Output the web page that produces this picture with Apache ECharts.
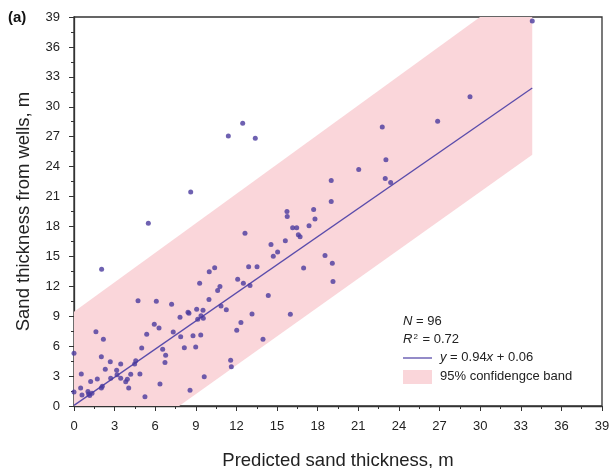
<!DOCTYPE html>
<html>
<head>
<meta charset="utf-8">
<script src="https://cdn.jsdelivr.net/npm/echarts@6/dist/echarts.min.js"></script>
<style>
  html, body { margin: 0; padding: 0; background: #fff; }
  #chart { width: 611px; height: 468px; }
</style>
</head>
<body>
<div id="chart"></div>
<script>
// Predicted vs. measured sand thickness (m) for the wells
const predicted = [
  0.0, 0.0, 0.54, 0.49, 0.59, 1.03, 1.08, 1.16, 1.33, 1.23,
  1.62, 1.72, 2.02, 2.17, 2.02, 2.09, 2.31, 2.68, 2.71, 3.15,
  3.18, 3.45, 3.45, 3.82, 3.94, 4.04, 4.19, 4.48, 4.56, 4.87,
  5.0, 5.24, 5.37, 5.93, 6.28, 6.35, 6.55, 6.77, 6.72, 7.33,
  7.88, 8.15, 7.83, 5.49, 2.04, 4.73, 6.08, 7.21, 9.28, 8.42,
  9.06, 9.53, 15.04, 14.72, 16.96, 9.99, 10.39, 12.9, 13.52, 12.09,
  12.51, 13.0, 10.78, 10.61, 9.97, 14.35, 10.86, 11.25, 8.49, 9.38,
  9.55, 9.14, 13.15, 15.98, 12.33, 12.02, 8.79, 9.36, 8.99, 13.96,
  11.57, 11.62, 9.62, 8.57, 23.04, 21.03, 19.0, 22.99, 23.39, 19.0,
  17.7, 17.8, 17.36, 16.7, 18.54, 19.08, 19.13, 33.85, 29.25, 26.86,
  22.77, 15.73, 15.75, 16.15, 16.45, 16.57, 15.61, 14.55, 8.62, 11.4,
  12.46, 13.39, 12.63
];
const measured = [
  5.3, 1.4, 3.2, 1.8, 1.1, 1.45, 1.2, 1.05, 1.27, 2.45,
  7.45, 2.7, 4.95, 6.7, 1.8, 1.97, 3.68, 4.44, 2.78, 3.58,
  3.14, 4.21, 2.78, 2.44, 2.68, 1.81, 3.18, 4.21, 4.54, 3.21,
  5.82, 0.93, 7.19, 8.19, 7.82, 2.21, 5.69, 5.09, 4.35, 7.42,
  6.95, 5.85, 8.9, 18.32, 13.71, 10.56, 10.5, 10.2, 12.31, 9.4,
  9.7, 9.6, 15.45, 15.01, 13.84, 13.47, 13.87, 13.97, 13.97, 12.7,
  12.3, 12.07, 11.97, 11.57, 10.67, 11.07, 10.03, 9.66, 9.3, 9.06,
  8.8, 8.7, 9.23, 9.2, 8.36, 7.59, 7.05, 7.12, 5.92, 6.69,
  4.58, 3.94, 2.94, 1.57, 24.7, 23.7, 22.6, 22.8, 22.4, 20.5,
  19.7, 18.75, 18.08, 16.98, 15.08, 14.3, 12.47, 38.6, 31.0, 28.56,
  27.98, 19.49, 18.99, 17.88, 17.88, 17.18, 16.58, 16.2, 21.46, 27.08,
  28.36, 26.85, 17.32
];

// Least-squares fit y = slope * x + intercept
const fitSlope = 0.94;
const fitIntercept = 0.06;
const fitRange = [0, 33.85];

// 95% confidence band edges at the ends of the fitted range
const bandX = [0, 33.85];
const bandUpper = [9.46, 42.8];
const bandLower = [-7.5, 25.2];

// Summary statistics
const sampleCount = 96;
const rSquared = 0.72;

// Axis range shared by both axes
const axisMin = 0;
const axisMax = 39;
const axisStep = 3;

const points = predicted.map((x, i) => [x, measured[i]]);
const fitLine = fitRange.map(x => [x, fitSlope * x + fitIntercept]);
const bandPolygon = [
  [bandX[0], bandLower[0]], [bandX[1], bandLower[1]],
  [bandX[1], bandUpper[1]], [bandX[0], bandUpper[0]]
];

const FONT = '"Liberation Sans", Arial, sans-serif';
const AXIS_COLOR = '#333';
const POINT_COLOR = '#4a3a9e';
const LINE_COLOR = '#5a4cab';
const BAND_COLOR = '#fad6da';

function axisCommon() {
  return {
    type: 'value',
    min: axisMin,
    max: axisMax,
    interval: axisStep,
    axisLine: { show: true, onZero: false, lineStyle: { color: AXIS_COLOR, width: 1.3 } },
    axisTick: { show: true, inside: false, length: 5, lineStyle: { color: AXIS_COLOR, width: 1 } },
    minorTick: { show: true, splitNumber: 2, length: 3, lineStyle: { color: AXIS_COLOR, width: 1 } },
    splitLine: { show: false },
    nameLocation: 'middle',
    nameTextStyle: { fontFamily: FONT, fontSize: 18.5, color: '#222' }
  };
}

const chart = echarts.init(document.getElementById('chart'), null, { renderer: 'canvas' });

const legendX = 403;
const legendText = { fontFamily: FONT, fontSize: 13, fill: '#222' };
const italic = { fontFamily: FONT, fontSize: 13, fontStyle: 'italic', fill: '#222' };

chart.setOption({
  animation: false,
  backgroundColor: '#fff',
  grid: {
    left: 74, right: 9, top: 17, bottom: 62,
    containLabel: false,
    outerBoundsMode: 'none',
    show: true, borderColor: AXIS_COLOR, borderWidth: 1.3, backgroundColor: 'transparent'
  },
  xAxis: Object.assign(axisCommon(), {
    name: 'Predicted sand thickness, m',
    nameGap: 45,
    axisLabel: { fontFamily: FONT, fontSize: 13, color: '#222', margin: 14 }
  }),
  yAxis: Object.assign(axisCommon(), {
    name: 'Sand thickness from wells, m',
    nameGap: 41,
    axisLabel: { fontFamily: FONT, fontSize: 13, color: '#222', margin: 14 }
  }),
  series: [
    {
      name: '95% confidence band',
      type: 'custom',
      clip: true,
      z: 1,
      silent: true,
      data: [0],
      renderItem: function (params, api) {
        const pts = bandPolygon.map(p => api.coord(p));
        const cs = params.coordSys;
        return {
          type: 'polygon',
          shape: { points: pts },
          style: { fill: BAND_COLOR },
          clipPath: { type: 'rect', shape: { x: cs.x, y: cs.y, width: cs.width, height: cs.height } }
        };
      }
    },
    {
      name: 'fit',
      type: 'line',
      z: 2,
      data: fitLine,
      symbol: 'none',
      lineStyle: { color: LINE_COLOR, width: 1.3 },
      silent: true
    },
    {
      name: 'wells',
      type: 'scatter',
      z: 3,
      data: points,
      symbol: 'circle',
      symbolSize: 5,
      itemStyle: { color: POINT_COLOR }
    }
  ],
  graphic: [
    {
      type: 'text', left: 8, top: 10,
      style: { text: '(a)', fontFamily: FONT, fontSize: 15, fontWeight: 'bold', fill: '#111' }
    },
    {
      type: 'text', x: legendX, y: 315,
      style: Object.assign({}, legendText, {
        text: '{i|N} = ' + sampleCount,
        rich: { i: italic }
      })
    },
    {
      type: 'text', x: legendX, y: 333,
      style: Object.assign({}, legendText, {
        text: '{i|R}{s|2} = ' + rSquared.toFixed(2),
        rich: {
          i: italic,
          s: { fontFamily: FONT, fontSize: 8, fill: '#222', verticalAlign: 'top', padding: [0, 1, 5, 1] }
        }
      })
    },
    {
      type: 'line', shape: { x1: legendX, y1: 358, x2: legendX + 29, y2: 358 },
      style: { stroke: LINE_COLOR, lineWidth: 1.3 }
    },
    {
      type: 'text', x: legendX + 37, y: 351,
      style: Object.assign({}, legendText, {
        text: '{i|y} = ' + fitSlope + '{i|x} + ' + fitIntercept.toFixed(2),
        rich: { i: italic }
      })
    },
    {
      type: 'rect', shape: { x: legendX, y: 370, width: 29, height: 14 },
      style: { fill: BAND_COLOR }
    },
    {
      type: 'text', x: legendX + 37, y: 370,
      style: Object.assign({}, legendText, { text: '95% confidengce band' })
    }
  ]
});
</script>
</body>
</html>
